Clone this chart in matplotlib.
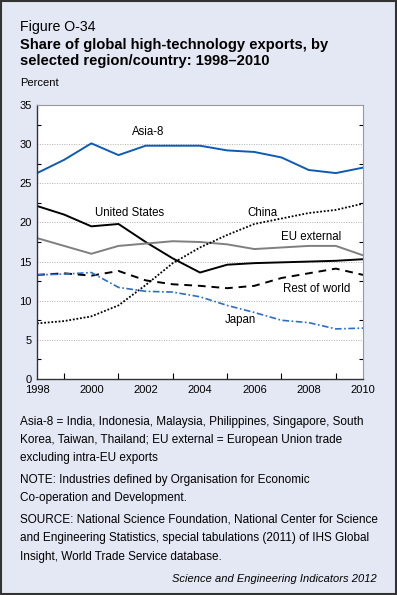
import matplotlib.pyplot as plt
import numpy as np

plt.rcParams['font.family'] = ['Liberation Sans', 'DejaVu Sans']

# Data (percent of global high-technology exports)
years = np.arange(1998, 2011)
asia8 = [26.3, 28.0, 30.1, 28.6, 29.8, 29.8, 29.8, 29.2, 29.0, 28.3, 26.7, 26.3, 27.0]
us = [22.1, 21.0, 19.5, 19.8, 17.5, 15.4, 13.6, 14.6, 14.8, 14.9, 15.0, 15.1, 15.3]
eu_ext = [18.0, 17.0, 16.0, 17.0, 17.3, 17.6, 17.5, 17.2, 16.6, 16.8, 17.0, 17.0, 15.8]
china = [7.1, 7.4, 8.0, 9.4, 12.0, 14.8, 16.8, 18.4, 19.8, 20.5, 21.2, 21.6, 22.4]
rest = [13.3, 13.5, 13.2, 13.8, 12.6, 12.1, 11.9, 11.6, 11.9, 12.9, 13.5, 14.1, 13.3]
japan = [13.3, 13.4, 13.6, 11.7, 11.2, 11.1, 10.5, 9.4, 8.5, 7.5, 7.2, 6.4, 6.5]

xticks = [1998, 2000, 2002, 2004, 2006, 2008, 2010]
yticks = [0, 5, 10, 15, 20, 25, 30, 35]

bg = '#e4e8f4'
fig = plt.figure(figsize=(3.97, 5.95), dpi=100, facecolor=bg)
W, H = 397, 595
ax = fig.add_axes([37 / W, 1 - 379 / H, (363 - 37) / W, (379 - 105) / H])
ax.set_facecolor('white')

# series
ax.plot(years, asia8, color='#0d5bb5', lw=1.4)
ax.plot(years, us, color='black', lw=1.4)
ax.plot(years, eu_ext, color='#7f7f7f', lw=1.4)
ax.plot(years, china, color='black', lw=1.3, ls=(0, (1, 1)))
ax.plot(years, rest, color='black', lw=1.4, ls=(0, (4, 3)))
ax.plot(years, japan, color='#2a6ec9', lw=1.2, ls=(0, (4, 1.5, 1, 1.5)))

# direct labels
lab = dict(fontsize=8.3, ha='center', va='center')
ax.text(2002.1, 31.5, 'Asia-8', **lab)
ax.text(2001.4, 21.2, 'United States', **lab)
ax.text(2006.3, 21.2, 'China', **lab)
ax.text(2008.1, 18.1, 'EU external', **lab)
ax.text(2008.3, 11.5, 'Rest of world', **lab)
ax.text(2005.5, 7.5, 'Japan', **lab)

ax.set_xlim(1998, 2010)
ax.set_ylim(0, 35)
ax.set_xticks(xticks)
ax.set_xticks(years, minor=True)
ax.set_yticks(yticks)
ax.set_yticks(np.arange(2.5, 35, 5), minor=True)
ax.tick_params(axis='both', which='major', labelsize=8, length=0, pad=4)
ax.tick_params(axis='x', which='minor', direction='in', length=4, width=0.8)
ax.tick_params(axis='y', which='minor', direction='in', length=3, width=0.8,
               left=True, right=True)
for y in yticks[1:-1]:
    ax.axhline(y, color='#b0b0b0', lw=0.7, ls=(0, (1, 1.5)), zorder=0)
for side in ['left', 'bottom']:
    ax.spines[side].set_color('#333333')
    ax.spines[side].set_linewidth(1.0)
for side in ['top', 'right']:
    ax.spines[side].set_color('#999999')
    ax.spines[side].set_linewidth(0.8)

# heading
fig.text(20 / W, 1 - 27 / H, 'Figure O-34', fontsize=10.2, va='center')
fig.text(20 / W, 1 - 53 / H,
         'Share of global high-technology exports, by\nselected region/country: 1998\u20132010',
         fontsize=10.6, fontweight='bold', va='center', linespacing=1.15)
fig.text(20 / W, 1 - 83 / H, 'Percent', fontsize=8, va='center')

# notes
notes = [
    (422, 'Asia-8 = India, Indonesia, Malaysia, Philippines, Singapore, South'),
    (440, 'Korea, Taiwan, Thailand; EU external = European Union trade'),
    (458, 'excluding intra-EU exports'),
    (480, 'NOTE: Industries defined by Organisation for Economic'),
    (498, 'Co-operation and Development.'),
    (520, 'SOURCE: National Science Foundation, National Center for Science'),
    (538, 'and Engineering Statistics, special tabulations (2011) of IHS Global'),
    (557, 'Insight, World Trade Service database.'),
]
for y, t in notes:
    fig.text(20 / W, 1 - y / H, t, fontsize=8.45, va='center')
fig.text(377 / W, 1 - 579 / H, 'Science and Engineering Indicators 2012',
         fontsize=8.0, style='italic', ha='right', va='center')

# outer border
fig.patches.append(plt.Rectangle((0.002, 0.002), 0.996, 0.996, transform=fig.transFigure,
                                 fill=False, edgecolor='#333333', lw=1.5))

fig.savefig('out.png', dpi=100, facecolor=bg)
